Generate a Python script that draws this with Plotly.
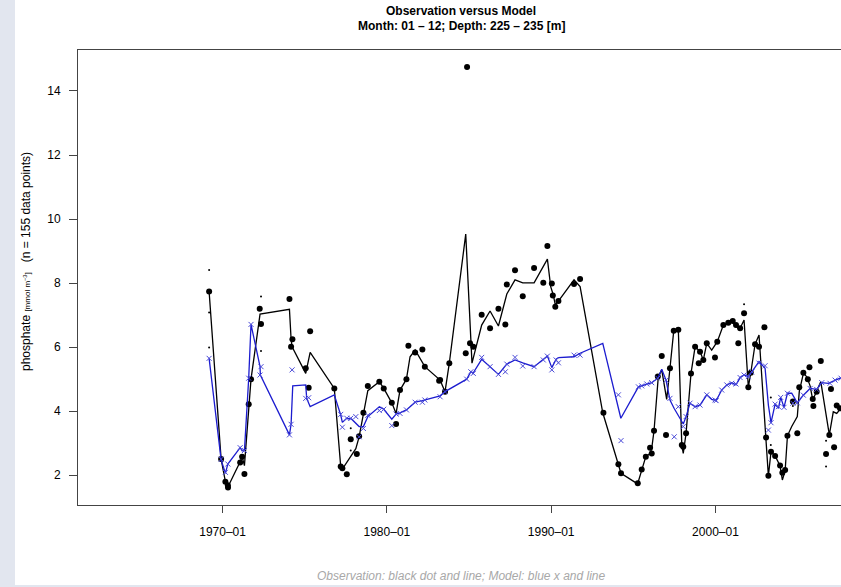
import plotly.graph_objects as go

# ---------------- data (decimal years, phosphate mmol m-3) ----------------
obs_line_year = [1969.18, 1969.91, 1970.17, 1970.33, 1971.07, 1971.19, 1971.33, 1971.59, 1971.73, 1972.28,
                 1974.07, 1974.17, 1974.23, 1975.06, 1975.33, 1976.80, 1977.19, 1977.29, 1978.11, 1978.31,
                 1978.57, 1978.84, 1979.54, 1979.81, 1980.30, 1980.56, 1980.80, 1981.19, 1981.41, 1981.72,
                 1982.31, 1983.24, 1983.54, 1983.80, 1984.80, 1985.18, 1985.77, 1986.28, 1986.79, 1987.30,
                 1987.80, 1988.27, 1988.96, 1989.77, 1989.97, 1990.13, 1990.25, 1990.44, 1991.39, 1991.76,
                 1993.14, 1994.09, 1994.25, 1995.26, 1995.51, 1995.76, 1996.02, 1996.12, 1996.26, 1996.52,
                 1996.73, 1997.03, 1997.23, 1997.46, 1997.74, 1997.95, 1998.04, 1998.21, 1998.51, 1998.76,
                 1999.06, 1999.26, 1999.47, 1999.77, 2000.11, 2000.48, 2000.78, 2001.05, 2001.25, 2001.50,
                 2001.74, 2002.00, 2002.15, 2002.41, 2002.65, 2003.08, 2003.22, 2003.38, 2003.63, 2003.93,
                 2004.07, 2004.24, 2004.38, 2004.64, 2004.98, 2005.10, 2005.35, 2005.55, 2005.76, 2005.92,
                 2006.16, 2006.41, 2006.93, 2007.17, 2007.38, 2007.64, 2007.90]
obs_line_val = [7.74, 2.51, 1.80, 1.64, 2.42, 2.58, 2.30, 4.22, 5.00, 7.03,
                7.18, 6.25, 6.01, 5.18, 5.84, 4.71, 2.27, 2.19, 2.83, 3.20,
                3.95, 4.64, 4.92, 4.71, 4.26, 3.93, 4.66, 5.00, 5.70, 5.91,
                5.39, 4.97, 4.61, 5.50, 9.53, 5.50, 6.69, 7.13, 6.66, 7.66,
                8.10, 8.01, 8.01, 8.75, 7.89, 7.63, 7.32, 7.44, 8.10, 7.89,
                3.95, 2.32, 2.06, 1.73, 2.18, 2.58, 2.68, 2.84, 3.39, 5.08,
                5.29, 4.37, 5.34, 6.51, 6.54, 2.94, 2.68, 3.31, 5.18, 6.01,
                5.86, 5.60, 6.12, 5.91, 6.17, 6.69, 6.76, 6.79, 6.64, 6.59,
                6.85, 4.75, 5.20, 6.09, 6.38, 3.18, 1.98, 2.73, 2.60, 2.30,
                1.85, 2.14, 3.23, 3.52, 3.83, 4.61, 5.18, 5.08, 4.79, 4.35,
                4.61, 4.92, 3.26, 3.98, 3.93, 4.09, 4.15]

obs_dot_year = [1969.18, 1969.91, 1970.17, 1970.32, 1970.33, 1971.07, 1971.19, 1971.33, 1971.59, 1971.73,
                1972.26, 1972.34, 1974.07, 1974.25, 1974.17, 1975.33, 1975.06, 1975.24, 1976.80, 1977.19,
                1977.29, 1977.56, 1977.80, 1978.17, 1978.31, 1978.57, 1978.84, 1979.54, 1979.81, 1980.30,
                1980.56, 1980.80, 1981.19, 1981.31, 1981.72, 1982.16, 1982.31, 1983.18, 1983.24, 1983.54,
                1983.80, 1984.80, 1985.06, 1985.26, 1985.77, 1986.28, 1986.79, 1987.21, 1987.30, 1987.80,
                1988.27, 1988.96, 1989.52, 1989.77, 1990.04, 1990.10, 1990.25, 1990.44, 1991.39, 1991.76,
                1984.88, 1993.18, 1994.09, 1994.25, 1995.27, 1995.51, 1995.76, 1996.02, 1996.12, 1996.26,
                1996.49, 1996.73, 1996.99, 1997.23, 1997.46, 1997.74, 1997.95, 1998.04, 1998.21, 1998.51,
                1998.76, 1998.98, 1999.06, 1999.26, 1999.47, 1999.97, 2000.11, 2000.48, 2000.78, 2001.05,
                2001.25, 2001.39, 2001.50, 2001.74, 2002.00, 2002.15, 2002.41, 2002.65, 2002.98, 2003.08,
                2003.22, 2003.38, 2003.63, 2003.93, 2004.07, 2004.24, 2004.38, 2004.71, 2004.98, 2005.10,
                2005.35, 2005.62, 2005.72, 2005.92, 2005.96, 2006.16, 2006.41, 2006.73, 2006.93, 2007.03,
                2007.22, 2007.38, 2007.58]
obs_dot_val = [7.74, 2.51, 1.80, 1.69, 1.62, 2.40, 2.58, 2.04, 4.22, 5.00,
               7.20, 6.72, 7.50, 6.25, 6.01, 6.50, 5.34, 4.73, 4.71, 2.27,
               2.22, 2.03, 3.12, 2.66, 3.22, 3.95, 4.79, 4.92, 4.71, 4.26,
               3.60, 4.66, 5.00, 6.04, 5.83, 5.93, 5.39, 4.95, 4.97, 4.61,
               5.50, 5.81, 6.12, 6.01, 7.01, 6.59, 7.20, 6.71, 7.96, 8.40,
               7.59, 8.47, 8.01, 9.16, 7.99, 7.61, 7.26, 7.44, 7.97, 8.13,
               14.75, 3.95, 2.34, 2.06, 1.75, 2.18, 2.58, 2.86, 2.68, 3.39,
               5.08, 5.72, 3.26, 5.34, 6.51, 6.54, 2.94, 2.89, 3.31, 5.18,
               6.01, 5.50, 5.86, 5.60, 6.12, 5.68, 6.17, 6.69, 6.76, 6.82,
               6.69, 6.12, 6.59, 7.06, 4.75, 5.20, 6.09, 6.01, 6.62, 3.18,
               1.98, 2.73, 2.60, 2.30, 2.08, 2.16, 3.23, 4.30, 3.31, 4.75,
               5.20, 5.00, 5.37, 4.38, 4.16, 4.61, 5.57, 2.66, 3.26, 4.69,
               2.87, 4.18, 4.09]

obs_small_year = [1969.18, 1969.18, 1969.18, 1972.34, 1972.34, 1977.80, 1977.80,
                  2001.74, 2003.37, 2003.37, 2004.71, 2006.73, 2006.73]
obs_small_val = [8.41, 7.08, 5.99, 7.58, 5.88, 3.47, 2.77,
                 7.34, 4.43, 2.94, 4.16, 2.27, 3.08]

mod_line_year = [1969.18, 1969.91, 1970.17, 1970.32, 1971.07, 1971.19, 1971.33, 1971.59, 1971.73, 1972.28,
                 1972.30, 1974.07, 1974.17, 1974.27, 1975.06, 1975.12, 1975.33, 1976.80, 1977.19, 1977.29,
                 1977.56, 1977.86, 1978.31, 1978.57, 1978.84, 1979.54, 1979.81, 1980.30, 1980.56, 1980.80,
                 1981.19, 1981.72, 1982.16, 1983.24, 1983.54, 1984.86, 1985.11, 1985.26, 1985.77, 1986.28,
                 1986.79, 1987.30, 1987.80, 1988.27, 1988.96, 1989.77, 1990.04, 1990.30, 1990.44, 1991.39,
                 1991.76, 1993.14, 1994.24, 1995.31, 1995.51, 1995.82, 1996.12, 1996.49, 1996.73, 1996.99,
                 1997.23, 1997.48, 1997.74, 1998.04, 1998.21, 1998.45, 1998.76, 1999.06, 1999.47, 1999.77,
                 2000.04, 2000.38, 2000.69, 2000.99, 2001.25, 2001.50, 2001.74, 2002.00, 2002.21, 2002.65,
                 2003.02, 2003.22, 2003.38, 2003.63, 2003.83, 2003.97, 2004.17, 2004.38, 2004.64, 2004.98,
                 2005.35, 2005.76, 2006.16, 2006.47, 2006.87, 2007.28, 2007.64, 2007.90]
mod_line_val = [5.65, 2.48, 2.06, 2.35, 2.86, 2.76, 2.77, 5.03, 6.71, 5.39,
                5.13, 3.26, 3.59, 4.79, 4.82, 4.40, 4.14, 4.51, 3.88, 3.65,
                3.78, 3.75, 3.52, 3.52, 3.83, 4.14, 4.06, 3.75, 3.91, 3.95,
                4.04, 4.28, 4.33, 4.48, 4.61, 5.00, 5.23, 5.20, 5.62, 5.39,
                5.15, 5.47, 5.60, 5.51, 5.39, 5.72, 5.36, 5.62, 5.67, 5.70,
                5.81, 6.12, 3.78, 4.76, 4.79, 4.85, 4.89, 5.03, 5.31, 4.97,
                4.35, 4.09, 3.88, 3.60, 3.83, 4.25, 4.14, 4.19, 4.51, 4.37,
                4.33, 4.66, 4.82, 4.89, 4.82, 5.05, 5.13, 5.08, 5.23, 5.55,
                5.34, 4.19, 3.64, 4.22, 4.09, 4.43, 4.12, 4.56, 4.56, 4.26,
                4.50, 4.71, 4.68, 4.89, 4.87, 4.97, 5.06, 5.10]

mod_x_year = [1969.18, 1969.91, 1970.17, 1970.32, 1971.07, 1971.33, 1971.59, 1971.73, 1972.34, 1972.28,
              1974.23, 1974.07, 1974.17, 1975.06, 1975.24, 1977.19, 1977.29, 1977.56, 1977.80, 1978.11,
              1978.31, 1978.57, 1978.84, 1979.54, 1979.81, 1980.30, 1980.56, 1980.80, 1981.19, 1981.72,
              1982.16, 1982.31, 1983.24, 1983.54, 1984.86, 1985.11, 1985.26, 1985.77, 1986.28, 1986.79,
              1987.21, 1987.30, 1987.80, 1988.27, 1988.96, 1989.52, 1989.77, 1990.04, 1990.30, 1990.44,
              1991.39, 1991.76, 1994.09, 1994.25, 1995.31, 1995.51, 1995.82, 1996.12, 1996.49, 1996.99,
              1997.23, 1997.49, 1997.74, 1998.04, 1998.21, 1998.45, 1998.76, 1999.06, 1999.47, 1999.97,
              2000.04, 2000.38, 2000.69, 2000.99, 2001.25, 2001.50, 2001.74, 2002.00, 2002.21, 2002.65,
              2003.02, 2003.22, 2003.38, 2003.63, 2003.83, 2003.97, 2004.17, 2004.38, 2004.71, 2004.98,
              2005.35, 2005.76, 2006.16, 2006.47, 2006.97, 2007.28, 2007.64]
mod_x_val = [5.65, 2.50, 2.09, 2.35, 2.86, 2.77, 5.03, 6.71, 5.39, 5.13,
             5.29, 3.26, 3.59, 4.40, 4.42, 3.90, 3.50, 3.78, 3.78, 3.83,
             3.20, 3.46, 3.87, 4.02, 4.06, 3.55, 3.91, 3.93, 4.04, 4.28,
             4.28, 4.35, 4.45, 4.61, 5.00, 5.23, 5.18, 5.68, 5.39, 5.15,
             5.23, 5.47, 5.68, 5.41, 5.39, 5.60, 5.72, 5.29, 5.60, 5.51,
             5.75, 5.75, 4.51, 3.08, 4.76, 4.79, 4.85, 4.89, 5.03, 4.97,
             4.40, 3.20, 4.14, 3.52, 3.83, 4.25, 4.14, 4.19, 4.51, 4.35,
             4.33, 4.66, 4.82, 4.87, 4.85, 5.05, 5.13, 5.08, 5.23, 5.50,
             5.42, 3.41, 3.64, 4.22, 4.14, 4.43, 4.12, 4.56, 4.25, 4.26,
             4.50, 4.71, 4.68, 4.89, 4.87, 4.97, 5.03]

tick_years = [1970, 1980, 1990, 2000]
tick_labels = ["1970\u201301", "1980\u201301", "1990\u201301", "2000\u201301"]
y_ticks = [2, 4, 6, 8, 10, 12, 14]

# ---------------- figure ----------------
W, H = 841, 587
ML, MR, MT, MB = 78, 0, 50, 82
pw, ph = W - ML - MR, H - MT - MB

def px_x(p):
    return (p - ML) / pw

def px_y(p):
    return (H - MB - p) / ph

FONT = "Liberation Sans, Arial, Helvetica, sans-serif"
BLACK = "#000000"
BLUE = "#1c1ccf"
BLUE_X = "#4a4ad8"

fig = go.Figure()
fig.add_trace(go.Scatter(x=obs_line_year, y=obs_line_val, mode="lines",
                         line=dict(color=BLACK, width=1.3), hoverinfo="skip"))
fig.add_trace(go.Scatter(x=obs_dot_year, y=obs_dot_val, mode="markers",
                         marker=dict(color=BLACK, size=6, line=dict(width=0))))
fig.add_trace(go.Scatter(x=obs_small_year, y=obs_small_val, mode="markers",
                         marker=dict(color=BLACK, size=2, line=dict(width=0))))
fig.add_trace(go.Scatter(x=mod_line_year, y=mod_line_val, mode="lines",
                         line=dict(color=BLUE, width=1.3), hoverinfo="skip"))
fig.add_trace(go.Scatter(x=mod_x_year, y=mod_x_val, mode="markers",
                         marker=dict(symbol="x-thin-open", color=BLUE_X, size=5,
                                     line=dict(color=BLUE_X, width=1))))

shapes = [
    dict(type="rect", xref="paper", yref="paper", x0=px_x(0), x1=px_x(15), y0=px_y(H), y1=px_y(0),
         fillcolor="#e2e6ef", line=dict(width=0), layer="above"),
    dict(type="rect", xref="paper", yref="paper", x0=px_x(0), x1=px_x(W), y0=px_y(H), y1=px_y(585),
         fillcolor="#e2e6ef", line=dict(width=0), layer="above"),
]

annotations = [
    dict(text="<b>Observation versus Model</b>", x=px_x(461), y=px_y(11), xref="paper", yref="paper",
         showarrow=False, font=dict(family=FONT, size=12, color="#000"), xanchor="center", yanchor="middle"),
    dict(text="<b>Month: 01 \u2013 12; Depth: 225 \u2013 235 [m]</b>", x=px_x(461), y=px_y(26),
         xref="paper", yref="paper", showarrow=False, font=dict(family=FONT, size=12, color="#000"),
         xanchor="center", yanchor="middle"),
    dict(text="Observation: black dot and line; Model: blue x and line", x=px_x(462), y=px_y(576),
         xref="paper", yref="paper", showarrow=False,
         font=dict(family=FONT, size=12, color="#a8a8a8", style="italic"),
         xanchor="center", yanchor="middle"),
    dict(text="phosphate <span style='font-size:8px'>[mmol m<sup>\u22123</sup>]</span>\u00a0\u00a0\u00a0(n = 155 data points)",
         x=px_x(26), y=px_y(262), xref="paper", yref="paper", showarrow=False, textangle=-90,
         font=dict(family=FONT, size=12, color="#000"), xanchor="center", yanchor="middle"),
]

fig.update_layout(
    width=W, height=H,
    margin=dict(l=ML, r=MR, t=MT, b=MB, pad=0),
    paper_bgcolor="white", plot_bgcolor="white",
    showlegend=False,
    font=dict(family=FONT, size=12, color="#000"),
    shapes=shapes, annotations=annotations,
    xaxis=dict(range=[1961.2, 2007.64], tickmode="array", tickvals=tick_years, ticktext=tick_labels,
               showgrid=False, zeroline=False, showline=True, linecolor="#444", linewidth=1,
               mirror=True, ticks="outside", ticklen=7, tickcolor="#444", tickwidth=1,
               ticklabelstandoff=9, tickfont=dict(family=FONT, size=12, color="#000")),
    yaxis=dict(range=[1.07, 15.28], tickmode="array", tickvals=y_ticks,
               showgrid=False, zeroline=False, showline=True, linecolor="#444", linewidth=1,
               ticks="outside", ticklen=8, tickcolor="#444", tickwidth=1,
               ticklabelstandoff=6, tickfont=dict(family=FONT, size=12, color="#000")),
)

fig.write_html("out.html", config={"displayModeBar": False},
               post_script="document.body.style.margin='0';document.body.style.overflow='hidden';")
